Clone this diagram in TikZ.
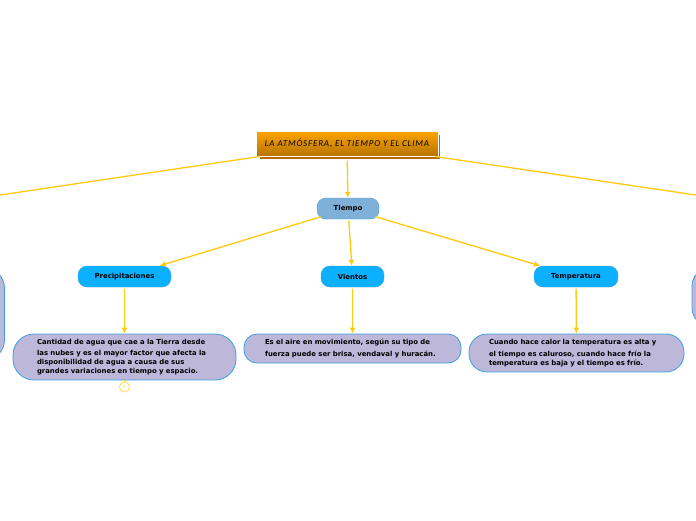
\documentclass[tikz,border=0pt]{standalone}
\usepackage{fontspec}
\setmainfont{DejaVu Sans}
\newfontfamily\titlefont[LetterSpace=9]{Carlito}
\usetikzlibrary{arrows.meta}
\usetikzlibrary{shadings}
\definecolor{linkYellow}{HTML}{FFC90E}
\definecolor{topicBlue}{HTML}{0BB0FF}
\definecolor{rootBlue}{HTML}{7FB0D8}
\definecolor{noteLilac}{HTML}{BDB8DA}
\definecolor{edgeBlue}{HTML}{3C9EE0}
\definecolor{titleTop}{HTML}{FCA400}
\definecolor{titleBottom}{HTML}{B87400}
\definecolor{titleShadow}{HTML}{B56A08}

\begin{document}
\begin{tikzpicture}[x = 1pt, y = -1pt, font=\bfseries]
	\tikzstyle{linkStyle}=[draw = linkYellow, line width = 1.3pt, -{Latex[length = 6pt, width = 6pt]}, shorten <= 1.5pt]
	\tikzstyle{plainLink}=[draw = linkYellow, line width = 1.3pt]
	\tikzstyle{topicStyle}=[shape = rectangle, rounded corners = 9pt, draw = edgeBlue, line width = 0.4pt, fill = topicBlue, inner sep = 0pt, font = \fontsize{6.9}{8}\bfseries]
	\tikzstyle{noteStyle}=[shape = rectangle, draw = edgeBlue, line width = 0.8pt, fill = noteLilac, inner ysep = 0pt, align = left, text width = 178pt, font = \fontsize{6.9}{8.8}\bfseries, execute at begin node = {\vspace{3pt}}]
	\useasboundingbox (0, 0) rectangle (696, 520);
	\node[shape = rectangle, fill = titleShadow, minimum width = 180pt, minimum height = 24pt] (shadow) at (350, 147) {};
	\node[shape = rectangle, draw = white, line width = 1pt, top color = titleTop, bottom color = titleBottom, minimum width = 182pt, minimum height = 25pt, inner sep = 0pt, font = \titlefont\itshape\fontsize{9}{10}\selectfont] (title) at (347, 143.5) {LA ATM\'OSFERA, EL TIEMPO Y EL CLIMA};
	\node[topicStyle, fill = rootBlue, minimum width = 62pt, minimum height = 21pt] (tiempo) at (348, 208.5) {Tiempo};
	\node[topicStyle, minimum width = 93pt, minimum height = 21pt] (precip) at (124.5, 276.5) {Precipitaciones};
	\node[topicStyle, minimum width = 63pt, minimum height = 21pt] (vientos) at (352.5, 276.5) {Vientos};
	\node[topicStyle, minimum width = 84pt, minimum height = 21pt] (temp) at (576, 276.5) {Temperatura};
	\node[noteStyle, rounded corners = 21pt, inner xsep = 24pt, text width = 175pt, minimum height = 46pt] (noteP) at (124.5, 357) {Cantidad de agua que cae a la Tierra desde\\las nubes y es el mayor factor que afecta la\\disponibilidad de agua a causa de sus\\grandes variaciones en tiempo y espacio.};
	\node[noteStyle, rounded corners = 13pt, inner xsep = 21pt, text width = 175pt, minimum height = 29pt] (noteV) at (352.5, 348.5) {Es el aire en movimiento, seg\'un su tipo de\\fuerza puede ser brisa, vendaval y hurac\'an.};
	\node[noteStyle, rounded corners = 18pt, inner xsep = 20pt, text width = 175pt, minimum height = 38pt] (noteT) at (576.5, 353) {Cuando hace calor la temperatura es alta y\\el tiempo es caluroso, cuando hace fr\'io la\\temperatura es baja y el tiempo es fr\'io.};
	\node[noteStyle, text width = 60pt, rounded corners = 20pt, inner xsep = 0pt, minimum height = 92pt] (noteLeft) at (-25.5, 314) {};
	\node[noteStyle, text width = 60pt, rounded corners = 18pt, inner xsep = 0pt, minimum height = 58pt] (noteRight) at (722, 297) {};
	\coordinate (offLeft) at (-20, 198);
	\coordinate (offRight) at (716, 198);
	\draw[plainLink] (title) -- (offLeft);
	\draw[plainLink] (title) -- (offRight);
	\draw[linkStyle, shorten <= 4pt] (title) -- (tiempo);
	\draw[linkStyle, shorten <= -4pt] (tiempo) -- (precip);
	\draw[linkStyle] (tiempo) -- (vientos);
	\draw[linkStyle, shorten <= -4pt] (tiempo) -- (temp);
	\draw[linkStyle] (precip) -- (noteP);
	\draw[linkStyle] (vientos) -- (noteV);
	\draw[linkStyle] (temp) -- (noteT);
	\node[shape = circle, draw = linkYellow!70, line width = 0.8pt, fill = white, minimum size = 10pt, inner sep = 0pt, text = linkYellow!70, font = \fontsize{4}{5}\selectfont] (count) at (124.5, 387) {5};
	\draw[draw = linkYellow, line width = 0.6pt] (noteP) -- (count);
\end{tikzpicture}
\end{document}
